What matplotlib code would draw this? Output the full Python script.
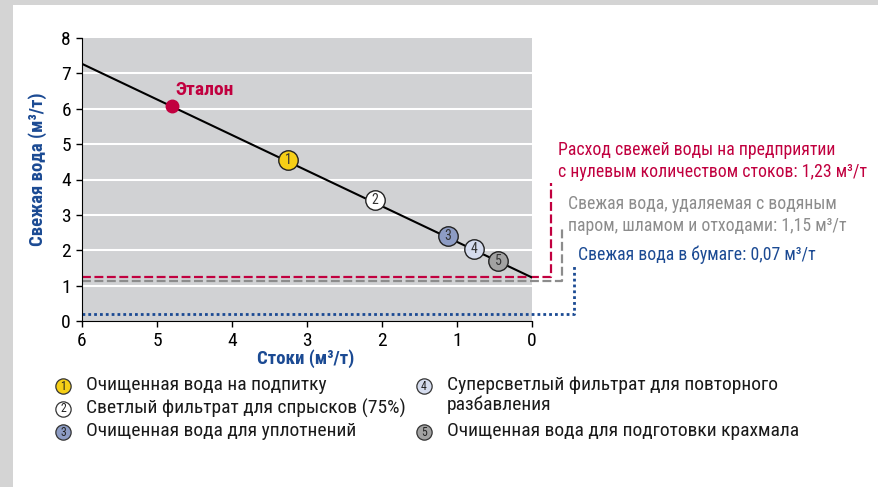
import matplotlib
matplotlib.use('Agg')
import matplotlib.pyplot as plt
from matplotlib.patches import Rectangle

plt.rcParams['font.family'] = ['Roboto Condensed', 'PT Sans Narrow', 'DejaVu Sans']

# data
line_x = [6, 0]
line_y = [7.27, 1.23]

etalon_x, etalon_y = 4.80, 6.07

pt_labels = ['1', '2', '3', '4', '5']
pt_x = [3.25, 2.09, 1.12, 0.77, 0.45]
pt_y = [4.54, 3.41, 2.39, 2.03, 1.70]
pt_colors = ['#f6cf16', '#ffffff', '#8d9cc4', '#d5dcee', '#a2a2a2']

legend_texts = ['Очищенная вода на подпитку',
                'Светлый фильтрат для спрысков (75%)',
                'Очищенная вода для уплотнений',
                'Суперсветлый фильтрат для повторного\nразбавления',
                'Очищенная вода для подготовки крахмала']

# reference levels: horizontal level, x where it turns, top of the vertical
ref_levels = [1.23, 1.12, 0.20]
ref_turn_x = [-0.26, -0.40, -0.56]
ref_top = [3.90, 2.63, 1.59]
ref_colors = ['#c1003f', '#8c8c8c', '#1b4a93']
ref_dashes = [(4, 1.6), (4, 1.6), (1, 1.1)]
ref_texts = ['Расход свежей воды на предприятии\nс нулевым количеством стоков: 1,23 м³/т',
             'Свежая вода, удаляемая с водяным\nпаром, шламом и отходами: 1,15 м³/т',
             'Свежая вода в бумаге: 0,07 м³/т']

W, H = 879, 487
fig = plt.figure(figsize=(W / 100, H / 100), dpi=100)
fig.patch.set_facecolor('#d4d4d4')
fig.patches.append(Rectangle((13 / W, 0), 1, 1 - 5 / H, transform=fig.transFigure,
                             facecolor='white', edgecolor='none', zorder=-10))

ax = fig.add_axes([82 / W, 1 - 321 / H, 450 / W, 283 / H])
ax.set_facecolor('#d1d2d4')
ax.set_xlim(6, 0)
ax.set_ylim(0, 8)
for s in ['top', 'right']:
    ax.spines[s].set_visible(False)
ax.set_yticks(range(0, 9))
ax.set_xticks(range(0, 7))
ax.tick_params(labelsize=14, length=4, width=1, pad=4)
for yv in range(1, 8):
    ax.axhline(yv, color='white', lw=1.5, zorder=1)

ax.set_ylabel('Свежая вода (м³/т)', color='#1b4a93', fontsize=13.5, fontweight='bold')
ax.yaxis.set_label_coords(-0.078, 0.535)
ax.set_xlabel('Стоки (м³/т)', color='#1b4a93', fontsize=13.5, fontweight='bold')
ax.xaxis.set_label_coords(0.497, -0.10)

# reference levels
for lvl, tx, top, c, d in zip(ref_levels, ref_turn_x, ref_top, ref_colors, ref_dashes):
    lw = 2.0 if d[0] == 1 else 1.6
    ax.plot([6, tx, tx], [lvl, lvl, top], color=c, lw=lw, dashes=d,
            clip_on=False, zorder=2, solid_capstyle='butt', dash_capstyle='butt')

ax.plot(line_x, line_y, color='black', lw=1.5, zorder=3)
ax.plot([etalon_x], [etalon_y], 'o', color='#c1003f', ms=9, zorder=4)
ax.text(etalon_x - 0.05, etalon_y + 0.45, 'Эталон', color='#c1003f', fontsize=14,
        fontweight='bold', va='center', ha='left')

for lab, x, y, c in zip(pt_labels, pt_x, pt_y, pt_colors):
    ax.plot([x], [y], 'o', ms=14, mfc=c, mec='#222222', mew=1, zorder=5)
    ax.text(x, y, lab, fontsize=10, ha='center', va='center', color='#333333', zorder=6)

# annotations to the right of the plot
ax.text(-0.35, 4.52, ref_texts[0], color=ref_colors[0], fontsize=12.8,
        va='center', ha='left', linespacing=1.25)
ax.text(-0.48, 3.0, ref_texts[1], color=ref_colors[1], fontsize=12.8,
        va='center', ha='left', linespacing=1.25)
ax.text(-0.62, 1.88, ref_texts[2], color=ref_colors[2], fontsize=12.8,
        va='center', ha='left')

# legend below, drawn in pixel space
lax = fig.add_axes([0, 0, 1, 1])
lax.set_xlim(0, W)
lax.set_ylim(H, 0)
lax.axis('off')
leg_pos = [(63, 386), (63, 409), (63, 432), (424, 386), (424, 432)]
for (mx, my), lab, c, t in zip(leg_pos, pt_labels, pt_colors, legend_texts):
    lax.plot([mx], [my], 'o', ms=11, mfc=c, mec='#333333', mew=0.9)
    lax.text(mx, my, lab, fontsize=8.5, ha='center', va='center', color='#222222')
    lax.text(mx + 23, my - 10, t, fontsize=14, ha='left', va='top',
             color='#1a1a1a', linespacing=1.08)

fig.savefig('out.png', dpi=100)
